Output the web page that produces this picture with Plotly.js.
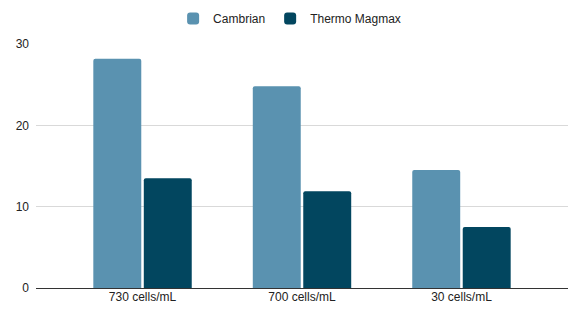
<!DOCTYPE html>
<html>
<head>
<meta charset="utf-8">
<script src="https://cdn.plot.ly/plotly-3.0.1.min.js"></script>
<style>html,body{margin:0;padding:0;background:#fff}#chart{width:569px;height:309px}</style>
</head>
<body>
<div id="chart"></div>
<script>
const categories = ["730 cells/mL", "700 cells/mL", "30 cells/mL"];
const cambrian = [28.2, 24.8, 14.5];
const thermoMagmax = [13.5, 11.9, 7.5];
const seriesNames = ["Cambrian", "Thermo Magmax"];
const yTicks = [0, 10, 20, 30];

const data = [
  {type: "bar", name: seriesNames[0], x: categories, y: cambrian,
   marker: {color: "#5A92B0", cornerradius: 2}, hoverinfo: "none"},
  {type: "bar", name: seriesNames[1], x: categories, y: thermoMagmax,
   marker: {color: "#02465F", cornerradius: 2}, hoverinfo: "none"}
];

const layout = {
  width: 569, height: 309,
  margin: {l: 36, r: 1, t: 44, b: 21},
  paper_bgcolor: "#fff", plot_bgcolor: "#fff",
  font: {family: "Liberation Sans, Arial, sans-serif", size: 12, color: "#222"},
  barmode: "group", bargap: 0.367, bargroupgap: 0.05,
  showlegend: true,
  legend: {orientation: "h", xref: "container", yref: "container", x: 0.509, xanchor: "center", y: 0.987, yanchor: "top",
           font: {size: 12, color: "#222"}},
  xaxis: {type: "category", range: [-0.668, 2.668], showgrid: false, showline: false, ticks: "",
          tickfont: {size: 12, color: "#222"}, fixedrange: true},
  yaxis: {range: [0, 30], tickvals: yTicks, showgrid: true, gridcolor: "#d9d9d9", gridwidth: 1,
          zeroline: true, zerolinecolor: "#333", zerolinewidth: 1, ticks: "", ticklabelstandoff: 6,
          tickfont: {size: 12, color: "#222"}, fixedrange: true}
};

Plotly.newPlot("chart", data, layout, {staticPlot: true, displayModeBar: false});
</script>
</body>
</html>
